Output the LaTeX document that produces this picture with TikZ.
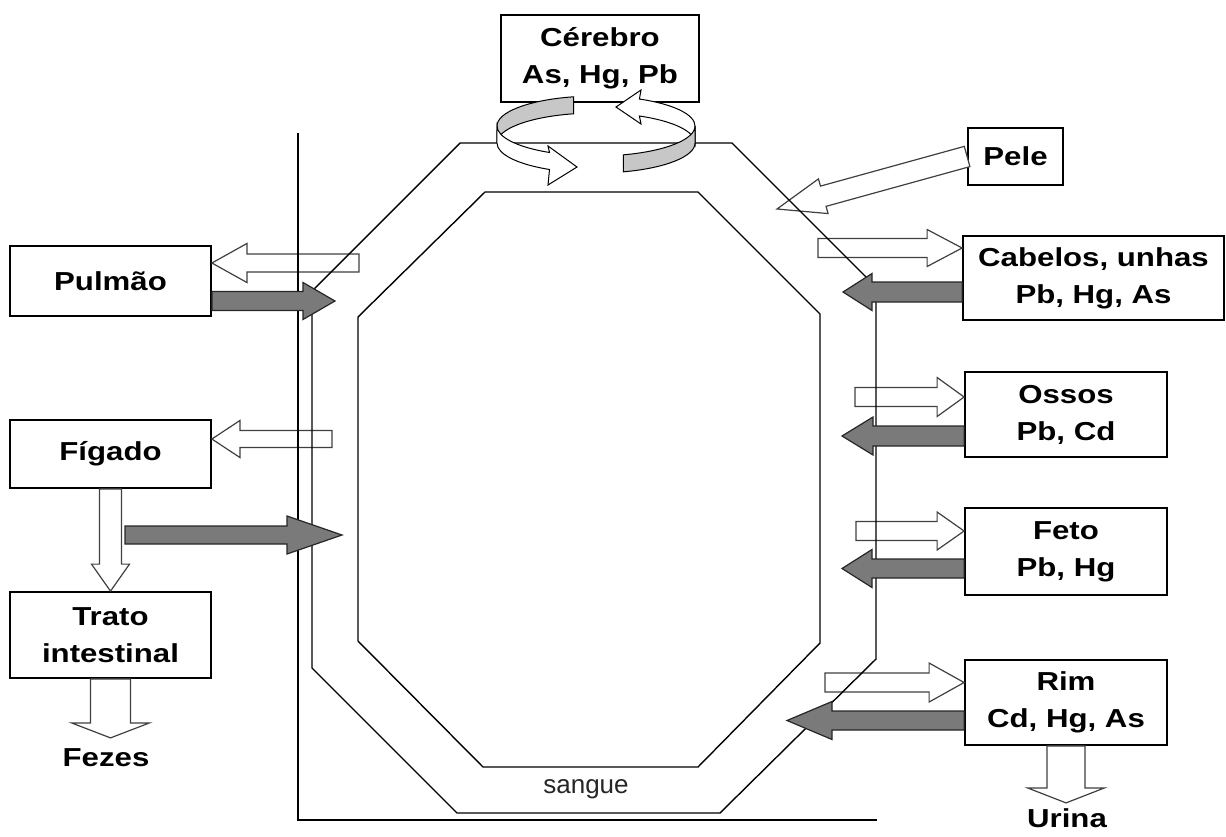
\documentclass[tikz,border=0pt]{standalone}
\usepackage{fontspec}
\setmainfont{Liberation Sans}[FakeStretch=1.2]
\newfontfamily\sanguefont{Liberation Sans}
\usetikzlibrary{calc}

\newcommand{\blockarrow}[6][]{%
  \draw[#1] ($(#2)!#4!90:(#3)$) -- ($($(#3)!#6!(#2)$)!#4!90:(#3)$) -- ($($(#3)!#6!(#2)$)!#5!90:(#3)$) -- (#3)
    -- ($($(#3)!#6!(#2)$)!#5!-90:(#3)$) -- ($($(#3)!#6!(#2)$)!#4!-90:(#3)$) -- ($(#2)!#4!-90:(#3)$) -- cycle;}

\begin{document}
\begin{tikzpicture}[x=1pt,y=-1pt,
  box/.style={draw,line width=1.8pt,fill=white,align=center,inner sep=0pt,font=\fontsize{26}{37}\selectfont\bfseries},
  plaintext/.style={align=center,inner sep=0pt,font=\fontsize{26}{37}\selectfont\bfseries},
  whitearrow/.style={fill=white,draw=black!75,line width=1.2pt},
  darkarrow/.style={fill=black!52,draw=black!85,line width=1.2pt},
  ringgrey/.style={fill=black!22,draw=black,line width=1pt},
  ringwhite/.style={fill=white,draw=black,line width=1pt},
  vessel/.style={line width=1.4pt}]
\useasboundingbox (0,0) rectangle (1226,836);

\node[box,minimum width=198pt,minimum height=87pt] (cerebro) at (600,58.5) {Cérebro\\As, Hg, Pb};
\node[box,minimum width=95pt,minimum height=57pt] (pele) at (1015.5,156.5) {Pele};
\node[box,minimum width=261pt,minimum height=84pt] (cabelos) at (1093.5,278) {Cabelos, unhas\\Pb, Hg, As};
\node[box,minimum width=202pt,minimum height=85pt] (ossos) at (1066,414.5) {Ossos\\Pb, Cd};
\node[box,minimum width=202pt,minimum height=87pt] (feto) at (1066,551.5) {Feto\\Pb, Hg};
\node[box,minimum width=202pt,minimum height=85pt] (rim) at (1066,702.5) {Rim\\Cd, Hg, As};
\node[box,minimum width=201pt,minimum height=70pt] (pulmao) at (110.5,281) {Pulmão};
\node[box,minimum width=201pt,minimum height=68pt] (figado) at (110.5,454) {Fígado};
\node[box,minimum width=201pt,minimum height=86pt] (trato) at (110.5,635) {Trato\\intestinal};
\node[plaintext] (fezes) at (106,758) {Fezes};
\node[plaintext] (urina) at (1067,818) {Urina};

\coordinate (pulOut) at (359,263); \coordinate (pulIn) at (335,301);
\coordinate (figOut) at (332,439); \coordinate (figIn) at (342,535); \coordinate (figTail) at (125,535);
\coordinate (peleIn) at (777,209);
\coordinate (cabOut) at (818,248); \coordinate (cabIn) at (843,292);
\coordinate (ossOut) at (855,397); \coordinate (ossIn) at (842,436);
\coordinate (fetOut) at (856,531); \coordinate (fetIn) at (842,568.5);
\coordinate (rimOut) at (825,682.5); \coordinate (rimIn) at (787,720.5);
\coordinate (fezesTip) at ($(trato.south)+(0,59)$); \coordinate (urinaTip) at ($(rim.south)+(0,57)$);

\blockarrow[whitearrow]{pulOut}{pulOut -| pulmao.east}{9pt}{19.5pt}{35pt}
\blockarrow[whitearrow]{figOut}{figOut -| figado.east}{8.5pt}{18.5pt}{28pt}
\blockarrow[whitearrow]{figado.south}{trato.north}{11pt}{19pt}{27pt}
\blockarrow[whitearrow]{trato.south}{fezesTip}{20pt}{39pt}{15pt}
\blockarrow[whitearrow]{pele.west}{peleIn}{10.5pt}{18pt}{48pt}
\blockarrow[whitearrow]{cabOut}{cabOut -| cabelos.west}{9.5pt}{18.5pt}{35pt}
\blockarrow[whitearrow]{ossOut}{ossOut -| ossos.west}{9.5pt}{19.5pt}{27pt}
\blockarrow[whitearrow]{fetOut}{fetOut -| feto.west}{9.5pt}{19pt}{27pt}
\blockarrow[whitearrow]{rimOut}{rimOut -| rim.west}{9.5pt}{19.5pt}{35pt}
\blockarrow[whitearrow]{rim.south}{urinaTip}{19pt}{38.5pt}{15pt}

\draw[vessel] (460,143) -- (732,143) -- (876,287) -- (876,659) -- (720,813) -- (457,813) -- (312,668) -- (312,291) -- cycle;
\draw[vessel] (485,192) -- (698,192) -- (820,314) -- (820,643) -- (698,767) -- (483,767) -- (358,641) -- (358,317) -- cycle;
\draw[line width=1.6pt] (298,133) -- (298,820) -- (877,820);
\node[font=\sanguefont\fontsize{26}{30}\selectfont,text=black!85] (sangue) at (586,789) {sangue};

\blockarrow[darkarrow]{pulIn -| pulmao.east}{pulIn}{9.5pt}{18.5pt}{32pt}
\blockarrow[darkarrow]{figTail}{figIn}{9pt}{19pt}{55pt}
\blockarrow[darkarrow]{cabIn -| cabelos.west}{cabIn}{10pt}{18.5pt}{29pt}
\blockarrow[darkarrow]{ossIn -| ossos.west}{ossIn}{10pt}{19pt}{31pt}
\blockarrow[darkarrow]{fetIn -| feto.west}{fetIn}{9.5pt}{19pt}{30pt}
\blockarrow[darkarrow]{rimIn -| rim.west}{rimIn}{9.5pt}{19pt}{45pt}

\filldraw[ringgrey] (497,126) arc[start angle=180,end angle=257,x radius=99,y radius=30] -- ++(0,17)
  arc[start angle=257,end angle=180,x radius=99,y radius=30] -- cycle;
\filldraw[ringwhite] (497,126) arc[start angle=180,end angle=118,x radius=99,y radius=30] -- (548,146) -- (577,167)
  -- (548,185) -- (549.5,169.5) arc[start angle=118,end angle=180,x radius=99,y radius=30] -- cycle;
\filldraw[ringwhite] (639.4,99) -- (641,90) -- (616,107) -- (641,124) -- (639.4,116)
  arc[start angle=296,end angle=360,x radius=99,y radius=30] -- (695,126)
  arc[start angle=360,end angle=296,x radius=99,y radius=30] -- cycle;
\filldraw[ringgrey] (695,126) arc[start angle=0,end angle=74,x radius=99,y radius=30] -- ++(0,17)
  arc[start angle=74,end angle=0,x radius=99,y radius=30] -- cycle;
\end{tikzpicture}
\end{document}
